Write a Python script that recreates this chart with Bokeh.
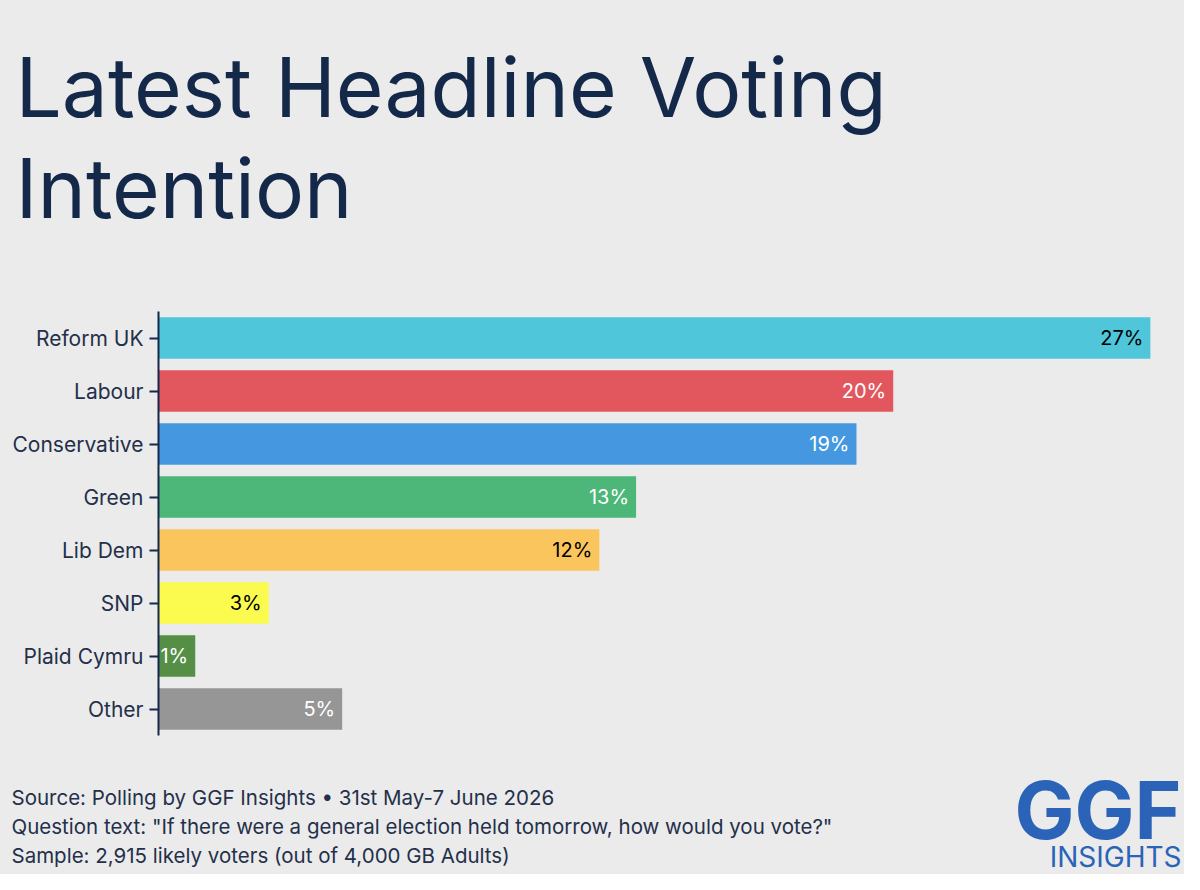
from bokeh.plotting import figure
from bokeh.models import ColumnDataSource, FactorRange, Range1d, Label
from bokeh.layouts import column
from bokeh.core.properties import value
from bokeh.embed import file_html
from bokeh.resources import INLINE

parties = ["Reform UK", "Labour", "Conservative", "Green", "Lib Dem", "SNP", "Plaid Cymru", "Other"]
shares = [27, 20, 19, 13, 12, 3, 1, 5]
bar_colors = ["#4fc6da", "#e2575e", "#4598e0", "#4db679", "#fbc55e", "#fbfb4f", "#558e45", "#969696"]
label_colors = ["#000000", "#ffffff", "#ffffff", "#ffffff", "#000000", "#000000", "#ffffff", "#ffffff"]
value_labels = [f"{v}%" for v in shares]

title_lines = ["Latest Headline Voting", "Intention"]
footer_lines = [
    "Source: Polling by GGF Insights \u2022 31st May-7 June 2026",
    "Question text: \"If there were a general election held tomorrow, how would you vote?\"",
    "Sample: 2,915 likely voters (out of 4,000 GB Adults)",
]
logo_word = "GGF"
logo_sub = "INSIGHTS"

BG = "#ebebeb"
NAVY = "#14284a"
TEXT = "#24304a"
LOGO = "#2a63b8"
FONT = "Inter"
W = 1184


def blank(height):
    f = figure(width=W, height=height, output_backend="svg", toolbar_location=None,
               x_range=Range1d(0, W), y_range=Range1d(0, height),
               x_axis_location=None, y_axis_location=None,
               min_border=0, background_fill_color=BG, border_fill_color=BG,
               outline_line_color=None, frame_align=False,
               styles={"background-color": BG})
    f.grid.visible = False
    return f


# ---- header ----
HH = 290
head = blank(HH)
for i, t in enumerate(title_lines):
    head.add_layout(Label(x=15, y=HH - (86.5 + 101 * i), text=t,
                          text_font=FONT, text_font_size="82px", text_color=NAVY,
                          text_baseline="alphabetic", text_align="left"))

# ---- main chart ----
src = ColumnDataSource(dict(party=parties, share=shares, color=bar_colors,
                            lcolor=label_colors, lab=value_labels))

MH = 455
p = figure(width=W, height=MH, output_backend="svg", toolbar_location=None,
           y_range=FactorRange(factors=parties[::-1]), x_range=Range1d(0, 27.33),
           x_axis_location=None, min_border_left=158, min_border_right=22,
           min_border_top=21, min_border_bottom=10,
           background_fill_color=BG, border_fill_color=BG, outline_line_color=None,
           frame_align=False, styles={"background-color": BG})

p.hbar(y="party", right="share", left=0, height=0.78, color="color", source=src, line_color=None)
p.text(x="share", y="party", text="lab", source=src, x_offset=-7,
       text_align="right", text_baseline="middle", text_font=value(FONT),
       text_font_size="20px", text_color="lcolor")

p.grid.visible = False
ax = p.yaxis[0]
ax.axis_line_color = NAVY
ax.axis_line_width = 2
ax.major_tick_line_color = NAVY
ax.major_tick_line_width = 2
ax.major_tick_out = 9
ax.major_tick_in = 0
ax.minor_tick_line_color = None
ax.major_label_standoff = 6
ax.major_label_text_font = FONT
ax.major_label_text_font_size = "21px"
ax.major_label_text_color = TEXT

# ---- footer ----
FH = 874 - HH - MH
for_base = HH + MH
foot = blank(FH)
for i, t in enumerate(footer_lines):
    foot.add_layout(Label(x=11, y=FH - (805 - for_base - 8 + 29 * i), text=t,
                          text_font=FONT, text_font_size="20.5px", text_color=TEXT,
                          text_baseline="alphabetic", text_align="left"))
foot.add_layout(Label(x=1181, y=FH - (838 - for_base - 29), text=logo_word,
                      text_font=FONT, text_font_size="80px", text_font_style="bold",
                      text_color=LOGO, text_baseline="alphabetic", text_align="right"))
foot.add_layout(Label(x=1181, y=FH - (866 - for_base - 10), text=logo_sub,
                      text_font=FONT, text_font_size="28px", text_color=LOGO,
                      text_baseline="alphabetic", text_align="right"))

layout = column(head, p, foot, spacing=0, styles={"background-color": BG})
open("out.html", "w").write(file_html(layout, INLINE))
